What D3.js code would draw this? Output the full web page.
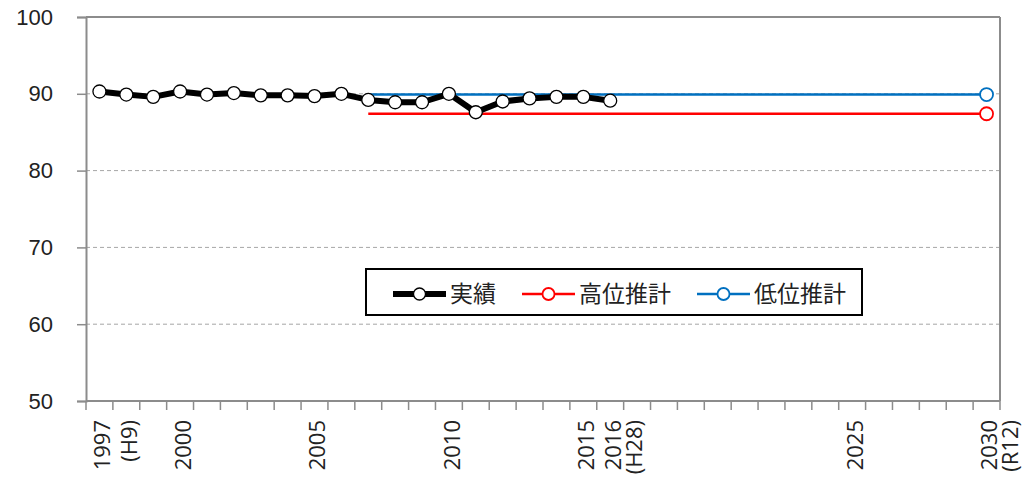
<!DOCTYPE html>
<html><head><meta charset="utf-8">
<script src="https://cdn.jsdelivr.net/npm/d3@7"></script>
<style>
html,body{margin:0;padding:0;background:#fff;}
svg{display:block;font-family:"Open Sans","Noto Sans CJK JP",sans-serif;}
</style></head>
<body><svg id="c" width="1031" height="478"></svg>
<script>
// ---- data ----
const years = d3.range(1997, 2031);
const actualYears = [1997,1998,1999,2000,2001,2002,2003,2004,2005,2006,2007,2008,2009,2010,2011,2012,2013,2014,2015,2016];
const actualValues = [90.3,89.9,89.6,90.3,89.9,90.1,89.8,89.8,89.7,90.0,89.2,88.9,88.9,90.0,87.6,89.0,89.4,89.6,89.6,89.1];
const highYears = [2007, 2030];
const highValues = [87.4, 87.4];
const lowYears = [2007, 2030];
const lowValues = [89.9, 89.9];
const yTicks = [50,60,70,80,90,100];
const gridTicks = [60,70,80,90];
const xLabelYears = [1997,1998,2000,2005,2010,2015,2016,2025,2030];
const xLabelTexts = [["1997"],["(H9)"],["2000"],["2005"],["2010"],["2015"],["2016","(H28)"],["2025"],["2030","(R12)"]];
const seriesNames = ["実績","高位推計","低位推計"];

// ---- layout ----
const svg = d3.select("#c");
const L = 86, R = 1000, T = 17, B = 401;
const x = d3.scaleBand().domain(years).range([L, R]).padding(0);
const cx = yr => x(yr) + x.bandwidth()/2;
const y = d3.scaleLinear().domain([50,100]).range([B, T]);
const axisCol = "#8c8c8c";

// gridlines
svg.append("g").selectAll("line").data(gridTicks).join("line")
  .attr("x1", L).attr("x2", R).attr("y1", d=>y(d)).attr("y2", d=>y(d))
  .attr("stroke", "#a6a6a6").attr("stroke-width", 1).attr("stroke-dasharray", "4,3");

// plot border top/right
svg.append("line").attr("x1", L).attr("x2", R).attr("y1", T).attr("y2", T).attr("stroke", axisCol).attr("stroke-width", 2);
svg.append("line").attr("x1", R).attr("x2", R).attr("y1", T).attr("y2", B).attr("stroke", axisCol).attr("stroke-width", 2);

// y axis
const yAxis = svg.append("g").attr("transform", `translate(${L},0)`)
  .call(d3.axisLeft(y).tickValues(yTicks).tickSize(9).tickPadding(24).tickFormat(d3.format("d")));
yAxis.select(".domain").attr("stroke", axisCol).attr("stroke-width", 2);
yAxis.selectAll(".tick line").attr("stroke", axisCol).attr("stroke-width", 1.5);
yAxis.selectAll(".tick text").attr("font-size", 22).attr("fill", "#222");

// x axis (ticks at category boundaries)
const boundaries = years.map(yr => x(yr)).concat([R]);
svg.append("line").attr("x1", L).attr("x2", R).attr("y1", B).attr("y2", B).attr("stroke", axisCol).attr("stroke-width", 2);
svg.append("g").selectAll("line").data(boundaries).join("line")
  .attr("x1", d=>d).attr("x2", d=>d).attr("y1", B).attr("y2", B+9)
  .attr("stroke", axisCol).attr("stroke-width", 1.5);

// x labels (rotated)
const lineGap = 21;
const xl = svg.append("g");
xLabelYears.forEach((yr, i) => {
  xLabelTexts[i].forEach((t, j) => {
    const px = cx(yr) + 3 + j*lineGap;
    xl.append("text")
      .attr("transform", `translate(${px},420) rotate(-90)`)
      .attr("text-anchor", "end").attr("dy", "0.35em")
      .attr("font-size", 22).attr("fill", "#222").text(t);
  });
});

// projection lines
function projLine(ys, vs, col) {
  const pts = ys.map((yr, i) => [cx(yr), y(vs[i])]);
  svg.append("path").attr("d", d3.line()(pts)).attr("fill", "none")
    .attr("stroke", col).attr("stroke-width", 2.5);
  const last = pts[pts.length-1];
  svg.append("circle").attr("cx", last[0]).attr("cy", last[1]).attr("r", 6.5)
    .attr("fill", "#fff").attr("stroke", col).attr("stroke-width", 1.8);
}
projLine(highYears, highValues, "#ff0000");
projLine(lowYears, lowValues, "#0070c0");

// actual
const apts = actualYears.map((yr, i) => [cx(yr), y(actualValues[i])]);
svg.append("path").attr("d", d3.line()(apts)).attr("fill", "none")
  .attr("stroke", "#000").attr("stroke-width", 6).attr("stroke-linejoin", "round");
svg.append("g").selectAll("circle").data(apts).join("circle")
  .attr("cx", d=>d[0]).attr("cy", d=>d[1]).attr("r", 6.5)
  .attr("fill", "#fff").attr("stroke", "#000").attr("stroke-width", 1.3);

// legend
const lg = svg.append("g");
lg.append("rect").attr("x", 366).attr("y", 269).attr("width", 496).attr("height", 46)
  .attr("fill", "#fff").attr("stroke", "#000").attr("stroke-width", 2);
const legItems = [
  {name: seriesNames[0], col: "#000", w: 6, x0: 393, sc: "#000", sw: 1.3},
  {name: seriesNames[1], col: "#ff0000", w: 2.5, x0: 522, sc: "#ff0000", sw: 1.8},
  {name: seriesNames[2], col: "#0070c0", w: 2.5, x0: 697, sc: "#0070c0", sw: 1.8}
];
const ly = 294;
legItems.forEach(it => {
  lg.append("line").attr("x1", it.x0).attr("x2", it.x0+53).attr("y1", ly).attr("y2", ly)
    .attr("stroke", it.col).attr("stroke-width", it.w);
  lg.append("circle").attr("cx", it.x0+26.5).attr("cy", ly).attr("r", 6)
    .attr("fill", "#fff").attr("stroke", it.sc).attr("stroke-width", it.sw);
  lg.append("text").attr("x", it.x0+57).attr("y", ly).attr("dy", "0.35em")
    .attr("font-size", 23).attr("fill", "#222")
    .attr("font-family", "'Noto Sans CJK JP',sans-serif").text(it.name);
});
</script></body></html>
